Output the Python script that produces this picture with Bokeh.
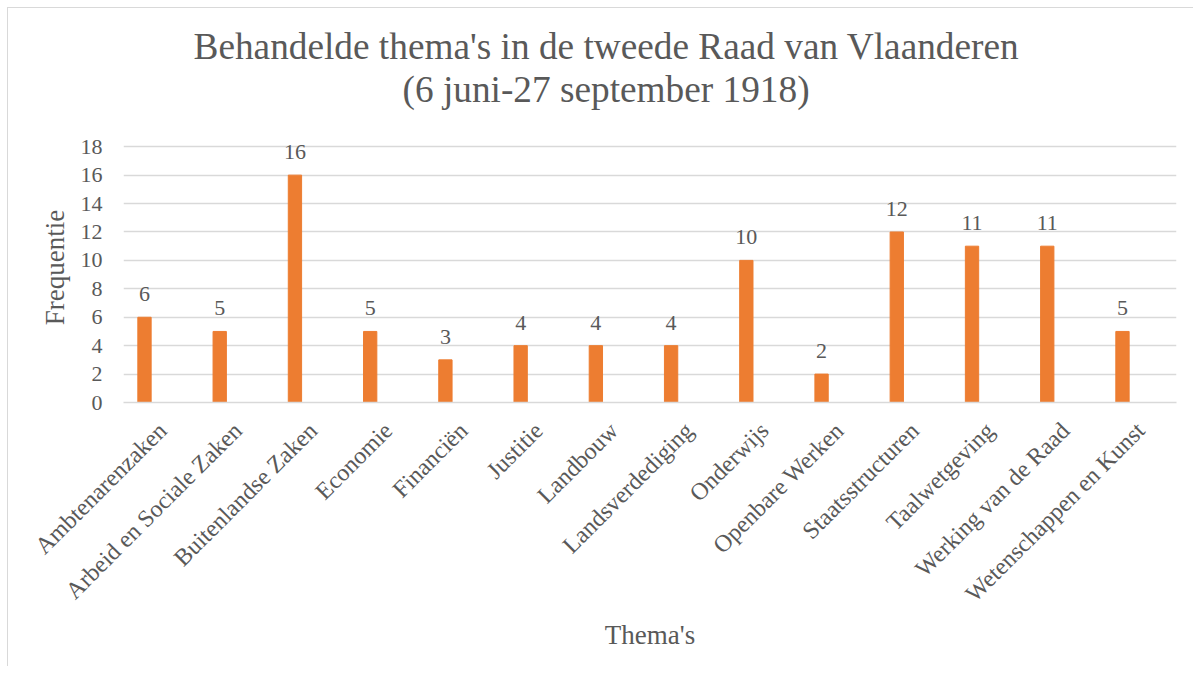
import math
from bokeh.plotting import figure
from bokeh.models import (ColumnDataSource, LabelSet, Range1d, FixedTicker, Title)
from bokeh.embed import file_html
from bokeh.resources import INLINE

categories = ["Ambtenarenzaken", "Arbeid en Sociale Zaken", "Buitenlandse Zaken", "Economie",
              "Financiën", "Justitie", "Landbouw", "Landsverdediging", "Onderwijs",
              "Openbare Werken", "Staatsstructuren", "Taalwetgeving", "Werking van de Raad",
              "Wetenschappen en Kunst"]
values = [6, 5, 16, 5, 3, 4, 4, 4, 10, 2, 12, 11, 11, 5]
y_ticks = [0, 2, 4, 6, 8, 10, 12, 14, 16, 18]
title_lines = ["Behandelde thema's in de tweede Raad van Vlaanderen", "(6 juni-27 september 1918)"]

FONT = "Liberation Serif"
TXT = "#595959"
GRID = "#d9d9d9"

xpos = list(range(len(categories)))
src = ColumnDataSource(dict(x=xpos, val=values, lab=[str(v) for v in values]))

# y range extends a little past the top tick so that the "16" label is not clipped
p = figure(x_range=Range1d(-0.279, len(categories) - 1 + 0.718), y_range=Range1d(0, 19),
           frame_width=1053, frame_height=270,
           min_border_left=115, min_border_right=17, min_border_top=124, min_border_bottom=264,
           output_backend="svg", toolbar_location=None)
p.margin = (7, 0, 0, 7)
p.styles = {"border-left": "1px solid #d9d9d9", "border-top": "1px solid #d9d9d9"}
p.outline_line_color = None
p.background_fill_color = "white"
p.border_fill_color = "white"

p.vbar(x="x", top="val", width=0.177, source=src, color="#ED7D31")

labels = LabelSet(x="x", y="val", text="lab", source=src, text_align="center",
                  text_baseline="alphabetic", y_offset=16, text_font=FONT,
                  text_font_size="22px", text_color=TXT)
p.add_layout(labels)

# axes
p.xgrid.grid_line_color = None
p.ygrid.grid_line_color = GRID
p.ygrid.grid_line_width = 1.3

p.yaxis.ticker = FixedTicker(ticks=y_ticks)
p.yaxis.axis_line_color = None
p.yaxis.major_tick_line_color = None
p.yaxis.minor_tick_line_color = None
p.yaxis.major_tick_out = 0
p.yaxis.major_tick_in = 0
p.yaxis.major_label_standoff = 21
p.yaxis.major_label_text_font = FONT
p.yaxis.major_label_text_font_size = "22px"
p.yaxis.major_label_text_color = TXT
p.yaxis.axis_label = "Frequentie"
p.yaxis.axis_label_text_font = FONT
p.yaxis.axis_label_text_font_size = "27px"
p.yaxis.axis_label_text_font_style = "normal"
p.yaxis.axis_label_text_color = TXT
p.yaxis.axis_label_standoff = 8

# category labels: rotated, anchored slightly right of each bar (as in the original)
label_shift = 0.24
tick_pos = [i + label_shift for i in xpos]
p.xaxis.ticker = FixedTicker(ticks=tick_pos)
p.xaxis.major_label_overrides = {t: c for t, c in zip(tick_pos, categories)}
p.xaxis.axis_line_color = GRID
p.xaxis.axis_line_width = 1.5
p.xaxis.major_tick_line_color = None
p.xaxis.minor_tick_line_color = None
p.xaxis.major_tick_out = 0
p.xaxis.major_tick_in = 0
p.xaxis.major_label_orientation = math.pi / 4
p.xaxis.major_label_standoff = 24
p.xaxis.major_label_text_font = FONT
p.xaxis.major_label_text_font_size = "24px"
p.xaxis.major_label_text_color = TXT
p.xaxis.axis_label = "Thema's"
p.xaxis.axis_label_text_font = FONT
p.xaxis.axis_label_text_font_size = "27px"
p.xaxis.axis_label_text_font_style = "normal"
p.xaxis.axis_label_text_color = TXT
p.xaxis.axis_label_standoff = 1

# two-line title, centred on the whole chart
t2 = Title(text=title_lines[1], align="left", offset=279, standoff=45,
           text_font=FONT, text_font_size="37.3px", text_font_style="normal", text_color=TXT)
t1 = Title(text=title_lines[0], align="left", offset=70, standoff=-45,
           text_font=FONT, text_font_size="37.3px", text_font_style="normal", text_color=TXT)
p.add_layout(t2, "above")
p.add_layout(t1, "above")

open("out.html", "w").write(file_html(p, INLINE))
